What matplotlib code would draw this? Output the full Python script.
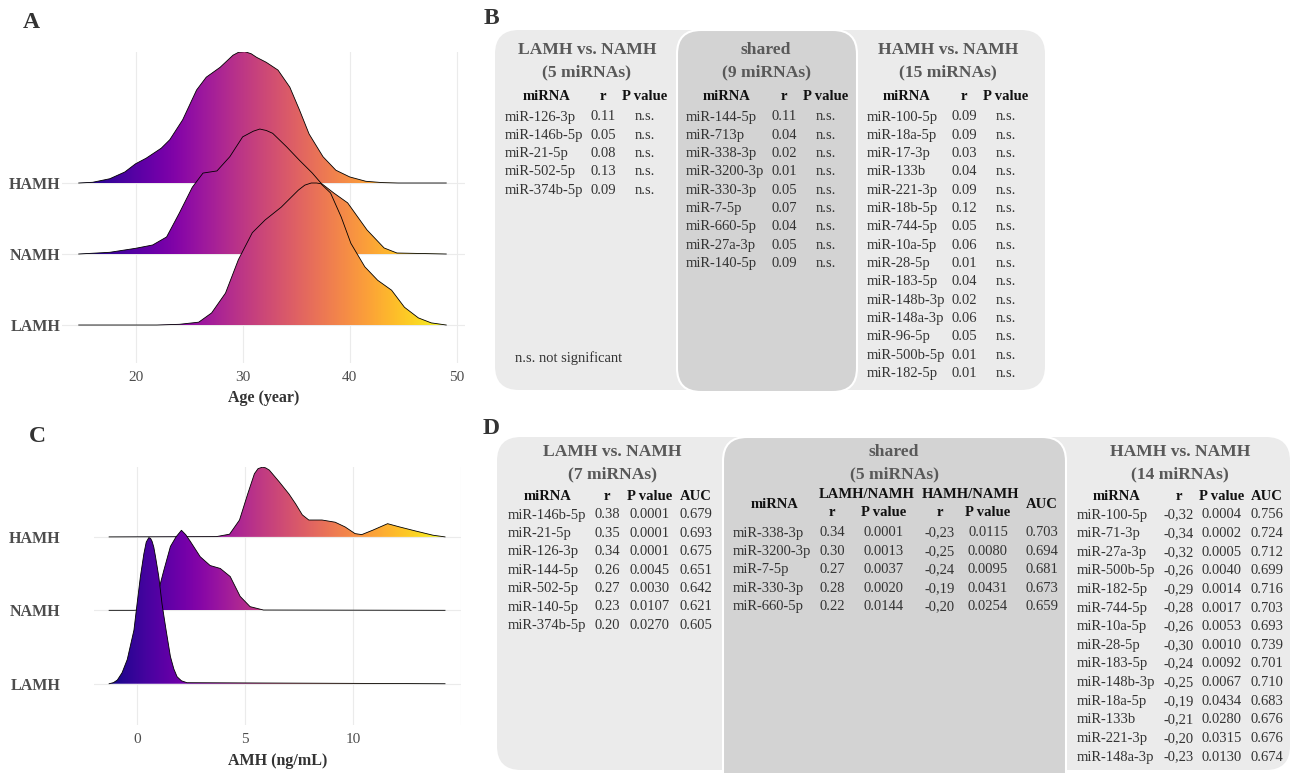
import numpy as np
import matplotlib
matplotlib.use("Agg")
import matplotlib.pyplot as plt
from matplotlib.patches import Polygon, FancyBboxPatch

plt.rcParams['font.family'] = ['Liberation Serif', 'DejaVu Serif']

# ---- panel A: age ridgelines (height in row units) ----
groups = ['LAMH', 'NAMH', 'HAMH']
age_lamh_x = [14.7, 22, 24.1, 25.9, 27.1, 28.4, 29.6, 30.9, 32.1, 33.6, 35.2, 35.8, 36.4, 36.9,
              37.3, 38.2, 39.2, 40.1, 41.4, 42.6, 43.9, 45.1, 46.4, 47.6, 49]
age_lamh_h = [0, 0, 0.01, 0.04, 0.17, 0.45, 0.92, 1.30, 1.48, 1.66, 1.90, 1.97, 2.0, 2.0,
              1.99, 1.86, 1.52, 1.15, 0.82, 0.63, 0.49, 0.25, 0.10, 0.03, 0]
age_namh_x = [14.7, 17.6, 20, 21.6, 22.9, 24.1, 25.3, 26.3, 27.6, 28.8, 30.0, 31.0, 31.6, 32.2,
              32.8, 34.1, 35.3, 36.5, 37.3, 38.5, 39.8, 41.6, 43.2, 44.4, 49]
age_namh_h = [0, 0.024, 0.08, 0.127, 0.24, 0.58, 0.94, 1.14, 1.17, 1.37, 1.65, 1.73, 1.76, 1.74,
              1.70, 1.51, 1.32, 1.14, 1.0, 0.86, 0.72, 0.34, 0.085, 0.014, 0]
age_hamh_x = [14.7, 16, 17.6, 19, 20, 21, 21.6, 22.4, 23.2, 24.4, 25.7, 26.6, 27.9, 29.1, 29.6,
              30.2, 30.8, 31.3, 32.2, 33.3, 34.4, 35.3, 36.2, 37.5, 38.7, 40, 41.5, 43, 44.5, 49]
age_hamh_h = [0, 0.01, 0.06, 0.155, 0.27, 0.35, 0.41, 0.49, 0.61, 0.89, 1.31, 1.49, 1.63, 1.80, 1.84,
              1.85, 1.82, 1.77, 1.70, 1.59, 1.35, 1.03, 0.69, 0.37, 0.18, 0.085, 0.024, 0.006, 0, 0]

# ---- panel C: AMH ridgelines ----
amh_lamh_x = [-1.3, -1.1, -0.92, -0.7, -0.46, -0.15, 0.0, 0.15, 0.31, 0.42, 0.54, 0.62, 0.69,
              0.77, 0.85, 1.0, 1.15, 1.25, 1.34, 1.54, 1.7, 1.85, 2.05, 2.31, 14.26]
amh_lamh_h = [0, 0.015, 0.05, 0.15, 0.33, 0.73, 1.1, 1.46, 1.77, 1.93, 1.99, 1.98, 1.94,
              1.86, 1.73, 1.46, 1.09, 0.9, 0.73, 0.37, 0.2, 0.095, 0.04, 0.014, 0]
amh_namh_x = [-1.3, -0.15, 0.46, 0.92, 1.23, 1.54, 1.8, 2.05, 2.25, 2.46, 2.92, 3.38, 3.85, 4.31,
              4.77, 5.23, 5.85, 14.26]
amh_namh_h = [0, 0, 0.014, 0.19, 0.54, 0.87, 1.0, 1.09, 1.03, 0.94, 0.73, 0.61, 0.57, 0.46,
              0.19, 0.05, 0.004, 0]
amh_hamh_x = [-1.3, 3.67, 4.28, 4.74, 5.12, 5.43, 5.6, 5.81, 5.95, 6.12, 6.58, 7.03, 7.34, 7.65,
              7.95, 8.56, 9.17, 9.63, 10.09, 10.4, 10.9, 11.6, 12.15, 12.9, 13.7, 14.26]
amh_hamh_h = [0, 0.004, 0.037, 0.23, 0.585, 0.86, 0.93, 0.95, 0.94, 0.91, 0.75, 0.585, 0.45, 0.30,
              0.23, 0.23, 0.20, 0.136, 0.045, 0.031, 0.09, 0.18, 0.136, 0.08, 0.023, 0]

# ---- panel B tables ----
b_left_mirna = ['miR-126-3p', 'miR-146b-5p', 'miR-21-5p', 'miR-502-5p', 'miR-374b-5p']
b_left_r = ['0.11', '0.05', '0.08', '0.13', '0.09']
b_shared_mirna = ['miR-144-5p', 'miR-713p', 'miR-338-3p', 'miR-3200-3p', 'miR-330-3p',
                  'miR-7-5p', 'miR-660-5p', 'miR-27a-3p', 'miR-140-5p']
b_shared_r = ['0.11', '0.04', '0.02', '0.01', '0.05', '0.07', '0.04', '0.05', '0.09']
b_right_mirna = ['miR-100-5p', 'miR-18a-5p', 'miR-17-3p', 'miR-133b', 'miR-221-3p',
                 'miR-18b-5p', 'miR-744-5p', 'miR-10a-5p', 'miR-28-5p', 'miR-183-5p',
                 'miR-148b-3p', 'miR-148a-3p', 'miR-96-5p', 'miR-500b-5p', 'miR-182-5p']
b_right_r = ['0.09', '0.09', '0.03', '0.04', '0.09', '0.12', '0.05', '0.06', '0.01', '0.04',
             '0.02', '0.06', '0.05', '0.01', '0.01']

# ---- panel D tables ----
d_left_mirna = ['miR-146b-5p', 'miR-21-5p', 'miR-126-3p', 'miR-144-5p', 'miR-502-5p',
                'miR-140-5p', 'miR-374b-5p']
d_left_r = ['0.38', '0.35', '0.34', '0.26', '0.27', '0.23', '0.20']
d_left_p = ['0.0001', '0.0001', '0.0001', '0.0045', '0.0030', '0.0107', '0.0270']
d_left_auc = ['0.679', '0.693', '0.675', '0.651', '0.642', '0.621', '0.605']
d_shared_mirna = ['miR-338-3p', 'miR-3200-3p', 'miR-7-5p', 'miR-330-3p', 'miR-660-5p']
d_shared_r_l = ['0.34', '0.30', '0.27', '0.28', '0.22']
d_shared_p_l = ['0.0001', '0.0013', '0.0037', '0.0020', '0.0144']
d_shared_r_h = ['-0,23', '-0,25', '-0,24', '-0,19', '-0,20']
d_shared_p_h = ['0.0115', '0.0080', '0.0095', '0.0431', '0.0254']
d_shared_auc = ['0.703', '0.694', '0.681', '0.673', '0.659']
d_right_mirna = ['miR-100-5p', 'miR-71-3p', 'miR-27a-3p', 'miR-500b-5p', 'miR-182-5p',
                 'miR-744-5p', 'miR-10a-5p', 'miR-28-5p', 'miR-183-5p', 'miR-148b-3p',
                 'miR-18a-5p', 'miR-133b', 'miR-221-3p', 'miR-148a-3p']
d_right_r = ['-0,32', '-0,34', '-0,32', '-0,26', '-0,29', '-0,28', '-0,26', '-0,30', '-0,24',
             '-0,25', '-0,19', '-0,21', '-0,20', '-0,23']
d_right_p = ['0.0004', '0.0002', '0.0005', '0.0040', '0.0014', '0.0017', '0.0053', '0.0010',
             '0.0092', '0.0067', '0.0434', '0.0280', '0.0315', '0.0130']
d_right_auc = ['0.756', '0.724', '0.712', '0.699', '0.716', '0.703', '0.693', '0.739', '0.701',
               '0.710', '0.683', '0.676', '0.676', '0.674']

W, H = 1298, 773
fig = plt.figure(figsize=(W / 100, H / 100), dpi=100)


def px_axes(left, top, right, bottom):
    return fig.add_axes([left / W, 1 - bottom / H, (right - left) / W, (bottom - top) / H])


def ridges(ax, curves, xlim, ylim, xticks, xlabel):
    xmin = min(min(c[0]) for c in curves)
    xmax = max(max(c[0]) for c in curves)
    grad = np.linspace(0, 1, 512).reshape(1, -1)
    for i, (xs, hs) in enumerate(curves):
        xs = np.asarray(xs, float)
        ys = i + np.asarray(hs, float)
        z = 10 - i * 3
        verts = np.column_stack([np.r_[xs, xs[::-1]], np.r_[ys, np.full(len(xs), i)]])
        poly = Polygon(verts, closed=True, facecolor='none', edgecolor='none', zorder=z)
        ax.add_patch(poly)
        im = ax.imshow(grad, cmap='plasma', aspect='auto', interpolation='bilinear',
                       extent=[xmin, xmax, i, i + max(hs) + 0.01], zorder=z, origin='lower')
        im.set_clip_path(poly)
        ax.plot(xs, ys, color='black', lw=0.6, zorder=z + 1)
    ax.set_xlim(*xlim)
    ax.set_ylim(*ylim)
    ax.set_xticks(xticks)
    ax.set_yticks(range(len(groups)))
    ax.set_yticklabels(groups, fontsize=11.5, fontweight='bold', color='#4d4d4d')
    ax.tick_params(axis='x', length=0, pad=6, labelsize=11, labelcolor='#4d4d4d')
    ax.tick_params(axis='y', length=0)
    ax.grid(True, color='#ebebeb', lw=0.8, zorder=0)
    ax.set_axisbelow(True)
    for s in ax.spines.values():
        s.set_visible(False)
    ax.set_xlabel(xlabel, fontsize=11.5, fontweight='bold', color='#333333', labelpad=4)


axA = px_axes(62, 52, 465, 363)
ridges(axA, [(age_lamh_x, age_lamh_h), (age_namh_x, age_namh_h), (age_hamh_x, age_hamh_h)],
       (13.14, 50.75), (-0.535, 3.845), [20, 30, 40, 50], 'Age (year)')
axA.tick_params(axis='y', pad=1)

axC = px_axes(94, 467, 461, 725)
ridges(axC, [(amh_lamh_x, amh_lamh_h), (amh_namh_x, amh_namh_h), (amh_hamh_x, amh_hamh_h)],
       (-2, 15), (-0.562, 2.952), [0, 5, 10, 15], 'AMH (ng/mL)')
axC.set_xticklabels(['0', '5', '10', ''])
axC.tick_params(axis='y', pad=24)
axC.xaxis.labelpad = 5

# ---- overlay for tables and panel letters ----
ov = fig.add_axes([0, 0, 1, 1], zorder=-1)
ov.set_xlim(0, W)
ov.set_ylim(H, 0)
ov.axis('off')

for letter, x, y in [('A', 31, 22), ('B', 491, 19), ('C', 37, 436), ('D', 491, 428)]:
    ov.text(x, y, letter, fontsize=17, fontweight='bold', color='#333333', ha='center', va='center')

LIGHT, DARK = '#ebebeb', '#d3d3d3'


def box(x0, y0, x1, y1, color, edge='none', lw=0):
    ov.add_patch(FancyBboxPatch((x0, y0), x1 - x0, y1 - y0,
                                boxstyle='round,pad=0,rounding_size=24',
                                facecolor=color, edgecolor=edge, linewidth=lw))


TITLE = dict(fontsize=12.6, fontweight='bold', color='#595959', ha='center', va='center')
HEAD = dict(fontsize=10.5, fontweight='bold', color='#111111', ha='center', va='center')
CELL = dict(fontsize=10.5, color='#333333', va='center')


def title(xc, y1, l1, l2):
    ov.text(xc, y1, l1, **TITLE)
    ov.text(xc, y1 + 22, l2, **TITLE)


def column(x, y0, step, values, ha='center'):
    for k, v in enumerate(values):
        ov.text(x, y0 + k * step, v, ha=ha, **CELL)


# panel B
box(495, 30, 1045, 390, LIGHT)
box(677, 30, 857, 392, DARK, edge='white', lw=1.5)
stepB = 18.33
for (xc, tl, mir, rr, xm, xmh, xr, xp) in [
        (587, 'LAMH vs. NAMH', b_left_mirna, b_left_r, 505, 547, 603, 645),
        (766, 'shared', b_shared_mirna, b_shared_r, 686, 727, 784, 826),
        (948, 'HAMH vs. NAMH', b_right_mirna, b_right_r, 867, 907, 964, 1006)]:
    title(xc, 50, tl, '(%d miRNAs)' % len(mir))
    ov.text(xmh, 97, 'miRNA', **HEAD)
    ov.text(xr, 97, 'r', **HEAD)
    ov.text(xp, 97, 'P value', **HEAD)
    column(xm, 117, stepB, mir, ha='left')
    column(xr, 117, stepB, rr)
    column(xp, 117, stepB, ['n.s.'] * len(mir))
ov.text(515, 358, 'n.s. not significant', ha='left', **CELL)

# panel D
box(497, 437, 1290, 770, LIGHT)
box(723, 437, 1066, 800, DARK, edge='white', lw=1.5)
stepD = 18.4
title(612, 452, 'LAMH vs. NAMH', '(%d miRNAs)' % len(d_left_mirna))
for x, t in [(548, 'miRNA'), (607, 'r'), (650, 'P value'), (696, 'AUC')]:
    ov.text(x, 496, t, **HEAD)
column(508, 515, stepD, d_left_mirna, ha='left')
column(607, 515, stepD, d_left_r)
column(650, 515, stepD, d_left_p)
column(696, 515, stepD, d_left_auc)

title(894, 452, 'shared', '(%d miRNAs)' % len(d_shared_mirna))
ov.text(775, 505, 'miRNA', **HEAD)
ov.text(867, 495, 'LAMH/NAMH', **HEAD)
ov.text(970, 495, 'HAMH/NAMH', **HEAD)
ov.text(1042, 504, 'AUC', **HEAD)
for x, t in [(832, 'r'), (884, 'P value'), (940, 'r'), (988, 'P value')]:
    ov.text(x, 513, t, **HEAD)
column(733, 533, stepD, d_shared_mirna, ha='left')
column(832, 533, stepD, d_shared_r_l)
column(884, 533, stepD, d_shared_p_l)
column(940, 533, stepD, d_shared_r_h)
column(988, 533, stepD, d_shared_p_h)
column(1042, 533, stepD, d_shared_auc)

title(1180, 452, 'HAMH vs. NAMH', '(%d miRNAs)' % len(d_right_mirna))
for x, t in [(1117, 'miRNA'), (1179, 'r'), (1222, 'P value'), (1267, 'AUC')]:
    ov.text(x, 497, t, **HEAD)
stepDR = 18.62
column(1077, 515, stepDR, d_right_mirna, ha='left')
column(1179, 515, stepDR, d_right_r)
column(1222, 515, stepDR, d_right_p)
column(1267, 515, stepDR, d_right_auc)

fig.savefig('out.png', dpi=100)
